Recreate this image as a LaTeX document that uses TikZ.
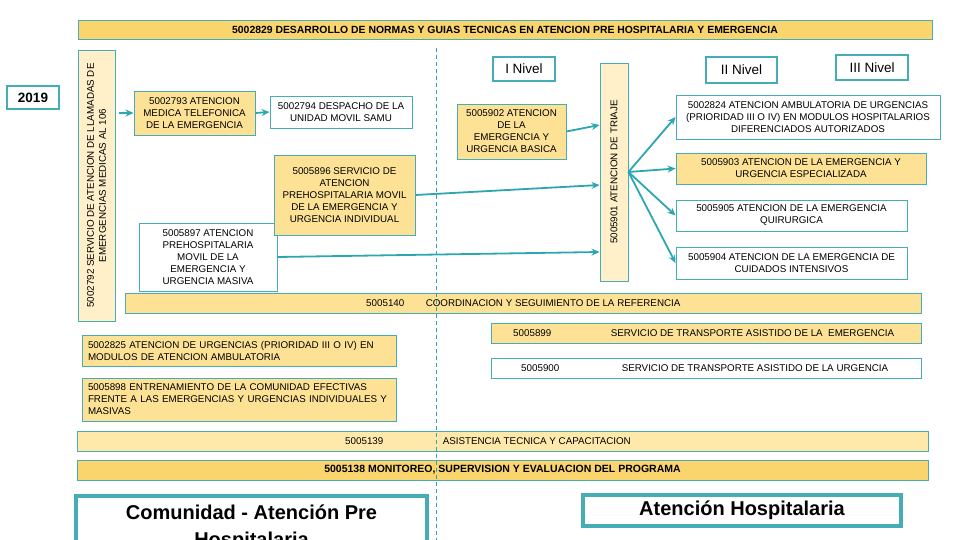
\documentclass[tikz,border=0pt]{standalone}
\usepackage{fontspec}
\setmainfont{Liberation Sans}
\usepackage{tikz}
\usetikzlibrary{positioning, calc, arrows.meta}
\definecolor{samuTeal}{RGB}{70,172,182}
\definecolor{samuLine}{RGB}{44,166,178}
\definecolor{samuOrange}{RGB}{253,226,150}
\definecolor{samuGold}{RGB}{250,212,108}
\definecolor{samuPale}{RGB}{255,240,202}
\definecolor{samuLight}{RGB}{255,233,170}

\begin{document}
\begin{tikzpicture}[
    x=1pt, y=-1pt,
    box/.style={rectangle, draw=samuTeal, line width=0.9pt, align=center, inner sep=0pt, font=\fontsize{9.8}{12}\selectfont},
    wh/.style 2 args={minimum width=#1pt, minimum height=#2pt},
    leftbox/.style={box, align=left, text width=302pt, inner xsep=6pt, minimum height=#1pt},
    vbox/.style={box, rotate=90, fill=samuPale},
    txt/.style={inner sep=0pt, font=\fontsize{9.8}{12}\selectfont},
    nivel/.style={rectangle, draw=samuTeal, line width=2.8pt, fill=white, inner sep=0pt, font=\fontsize{13.5}{16}\selectfont},
    bigbox/.style={rectangle, draw=samuTeal, line width=3.6pt, fill=white, align=center, inner xsep=0pt, font=\bfseries\fontsize{20}{27}\selectfont},
    arrow/.style={-{Stealth[length=8pt, width=7pt]}, line width=1.8pt, draw=samuLine}
]
\useasboundingbox (0,0) rectangle (960,540);

% Cabecera
\node[box, wh={854}{19}, fill=samuGold, font=\bfseries\fontsize{10.4}{12}\selectfont] (normas) at (505,29.5)
    {5002829 DESARROLLO DE NORMAS Y GUIAS TECNICAS EN ATENCION PRE HOSPITALARIA Y EMERGENCIA};
\node[box, wh={52}{23}, line width=1.6pt, fill=white, font=\bfseries\fontsize{13.5}{16}\selectfont] (anio) at (33,97.5) {2019};

% Atencion pre hospitalaria
\node[vbox, wh={271}{37}] (llamadas) at (96.5,185.5)
    {5002792 SERVICIO DE ATENCION DE LLAMADAS DE\\EMERGENCIAS MEDICAS AL 106};
\node[box, wh={121}{44}, fill=samuOrange] (telef) at (194.5,113)
    {5002793 ATENCION\\MEDICA TELEFONICA\\DE LA EMERGENCIA};
\node[box, wh={142}{32}, fill=white] (samu) at (341,112)
    {5002794 DESPACHO DE LA\\UNIDAD MOVIL SAMU};
\node[box, wh={138}{68}, fill=white] (masiva) at (208,257)
    {5005897 ATENCION\\PREHOSPITALARIA\\MOVIL DE LA\\EMERGENCIA Y\\URGENCIA MASIVA};
\node[box, wh={141}{80}, fill=samuOrange] (indiv) at (344.5,195)
    {5005896 SERVICIO DE\\ATENCION\\PREHOSPITALARIA MOVIL\\DE LA EMERGENCIA Y\\URGENCIA INDIVIDUAL};

% Niveles
\node[nivel, wh={62}{24}] (nivelI) at (524,69) {I Nivel};
\node[nivel, wh={71}{26}] (nivelII) at (741.5,70) {II Nivel};
\node[nivel, wh={72}{25}] (nivelIII) at (872,67.5) {III Nivel};

\node[box, wh={109}{55}, fill=samuOrange] (basica) at (511.5,131.5)
    {5005902 ATENCION\\DE LA\\EMERGENCIA Y\\URGENCIA BASICA};
\node[vbox, wh={218}{28}] (triaje) at (614,172) {5005901 ATENCION DE TRIAJE};

\node[box, wh={264}{44}, fill=white] (ambulat) at (808,117)
    {5002824 ATENCION AMBULATORIA DE URGENCIAS\\(PRIORIDAD III O IV) EN MODULOS HOSPITALARIOS\\DIFERENCIADOS AUTORIZADOS};
\node[box, wh={250}{31}, fill=samuOrange] (especial) at (801,168.5)
    {5005903 ATENCION DE LA EMERGENCIA Y\\URGENCIA ESPECIALIZADA};
\node[box, wh={231}{31}, fill=white] (quirurg) at (791.5,215.5)
    {5005905 ATENCION DE LA EMERGENCIA\\QUIRURGICA};
\node[box, wh={231}{32}, fill=white] (intens) at (791.5,263)
    {5005904 ATENCION DE LA EMERGENCIA DE\\CUIDADOS INTENSIVOS};

% Barras
\node[box, wh={796}{20}, fill=samuOrange] (coord) at (523,303) {};
\node[txt, anchor=west] (coordnum) at (366,303) {5005140};
\node[txt, right=21pt of coordnum] (coordtxt) {COORDINACION Y SEGUIMIENTO DE LA REFERENCIA};

\node[box, wh={430}{20}, fill=samuOrange] (transemerg) at (706,333) {};
\node[txt, anchor=west] (transemergnum) at (513,333) {5005899};
\node[txt, right=59pt of transemergnum] (transemergtxt) {SERVICIO DE TRANSPORTE ASISTIDO DE LA \ EMERGENCIA};

\node[box, wh={430}{20}, fill=white] (transurg) at (706,368) {};
\node[txt, anchor=west] (transurgnum) at (521,368) {5005900};
\node[txt, right=62pt of transurgnum] (transurgtxt) {SERVICIO DE TRANSPORTE ASISTIDO DE LA URGENCIA};

\node[leftbox=31, fill=samuOrange] (modulos) at (239,350.5)
    {5002825 ATENCION DE URGENCIAS (PRIORIDAD III O IV) EN\\MODULOS DE ATENCION AMBULATORIA};
\node[leftbox=43, fill=samuOrange] (entrena) at (239,399.5)
    {5005898 ENTRENAMIENTO DE LA COMUNIDAD EFECTIVAS\\FRENTE A LAS EMERGENCIAS Y URGENCIAS INDIVIDUALES Y\\MASIVAS};

\node[box, wh={851}{20}, fill=samuLight] (asist) at (502.5,441) {};
\node[txt, anchor=west] (asistnum) at (345,441) {5005139};
\node[txt, right=59pt of asistnum] (asisttxt) {ASISTENCIA TECNICA Y CAPACITACION};

\node[box, wh={851}{20}, fill=samuGold, font=\bfseries\fontsize{10.5}{12}\selectfont] (monit) at (502.5,470)
    {5005138 MONITOREO, SUPERVISION Y EVALUACION DEL PROGRAMA};

% Ambitos
\node[bigbox, anchor=north, minimum width=351pt, inner ysep=9.5pt] (comunidad) at (251.5,494)
    {Comunidad - Atención Pre\\Hospitalaria};
\node[bigbox, wh={318}{31}, inner ysep=0pt] (hospital) at (742,510.5) {Atención Hospitalaria};

% Flechas
\draw[arrow, shorten <=4pt] (llamadas.south |- telef.west) -- (telef.west);
\draw[arrow] (telef.east) -- (samu.west);
\draw[arrow] (basica.east) -- ([yshift=47pt]triaje.north);
\draw[arrow] (indiv.east) -- ([yshift=-13pt]triaje.north);
\draw[arrow] (masiva.east) -- ([yshift=-80pt]triaje.north);
\draw[arrow] (triaje.south) -- (ambulat.west);
\draw[arrow] (triaje.south) -- (especial.west);
\draw[arrow] (triaje.south) -- (quirurg.west);
\draw[arrow] (triaje.south) -- (intens.west);

% Separador
\coordinate (sepTop) at (436,48);
\coordinate (sepBot) at (436,540);
\draw[samuLine, line width=0.8pt, dash pattern=on 4pt off 3pt] (sepTop) -- (sepBot);

\end{tikzpicture}
\end{document}
